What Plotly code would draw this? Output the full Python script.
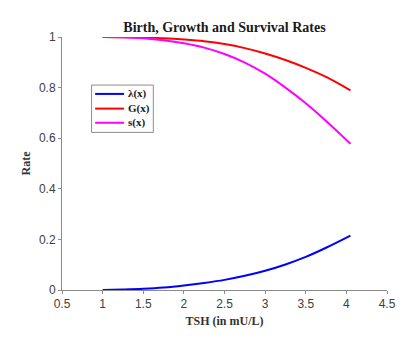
import plotly.graph_objects as go

# TSH values (mU/L) where the rates were sampled
tsh = [1.0, 1.25, 1.5, 1.75, 2.0, 2.25, 2.5, 2.75, 3.0, 3.25, 3.5, 3.75, 4.05]

# rates
birth = [0.0, 0.002, 0.005, 0.010, 0.018, 0.028, 0.040, 0.056, 0.076, 0.101, 0.131, 0.167, 0.215]
growth = [1.0, 0.9995, 0.998, 0.995, 0.990, 0.983, 0.972, 0.956, 0.935, 0.909, 0.878, 0.842, 0.789]
survival = [1.0, 0.999, 0.995, 0.987, 0.975, 0.958, 0.933, 0.899, 0.855, 0.800, 0.738, 0.668, 0.578]

names = ["λ(x)", "G(x)", "s(x)"]
colors = ["#0000ff", "#ff0000", "#ff00ff"]

x_ticks = [0.5, 1, 1.5, 2, 2.5, 3, 3.5, 4, 4.5]
y_ticks = [0, 0.2, 0.4, 0.6, 0.8, 1]

serif = "Liberation Serif, Times New Roman, serif"
sans = "Liberation Sans, Arial, sans-serif"

fig = go.Figure()

for name, vals, color in zip(names, [birth, growth, survival], colors):
    fig.add_trace(go.Scatter(
        x=tsh,
        y=vals,
        mode="lines",
        name=name,
        line=dict(color=color, width=2, shape="spline", smoothing=1.0),
    ))

# MATLAB-like legend box drawn in paper coordinates (plotly legend rows are too tall)
fig.add_shape(type="rect", xref="paper", yref="paper",
              x0=0.091, x1=0.281, y0=0.623, y1=0.810,
              line=dict(color="#8c8c8c", width=1), fillcolor="white", layer="above")
row_y = [0.775, 0.717, 0.661]
for name, color, yy in zip(names, colors, row_y):
    fig.add_shape(type="line", xref="paper", yref="paper",
                  x0=0.102, x1=0.191, y0=yy, y1=yy,
                  line=dict(color=color, width=2), layer="above")
    fig.add_annotation(xref="paper", yref="paper", x=0.197, y=yy,
                       xanchor="left", yanchor="middle", showarrow=False,
                       text=f"<b>{name}</b>",
                       font=dict(family=serif, size=11, color="#1a1a1a"))

axis_style = dict(
    showgrid=False,
    zeroline=False,
    showline=True,
    linecolor="#8c8c8c",
    linewidth=1,
    ticks="outside",
    ticklen=3,
    tickcolor="#8c8c8c",
    tickfont=dict(family=sans, size=12, color="#404040"),
)

fig.update_layout(
    width=411,
    height=330,
    paper_bgcolor="white",
    plot_bgcolor="white",
    margin=dict(l=54, r=32, t=29, b=48),
    showlegend=False,
    title=dict(
        text="<b>Birth, Growth and Survival Rates</b>",
        x=0.5,
        xanchor="center",
        xref="paper",
        y=0.942,
        yanchor="middle",
        font=dict(family=serif, size=14, color="#1a1a1a"),
    ),
    xaxis=dict(
        range=[0.5, 4.5],
        tickvals=x_ticks,
        ticktext=[f"{v:g}" for v in x_ticks],
        title=dict(text="<b>TSH (in mU/L)</b>", standoff=6,
                   font=dict(family=serif, size=12, color="#333333")),
        **axis_style
    ),
    yaxis=dict(
        range=[0, 1],
        tickvals=y_ticks,
        ticktext=[f"{v:g}" for v in y_ticks],
        title=dict(text="<b>Rate</b>", standoff=5,
                   font=dict(family=serif, size=12, color="#333333")),
        **axis_style
    ),
)

fig.write_html("out.html")
